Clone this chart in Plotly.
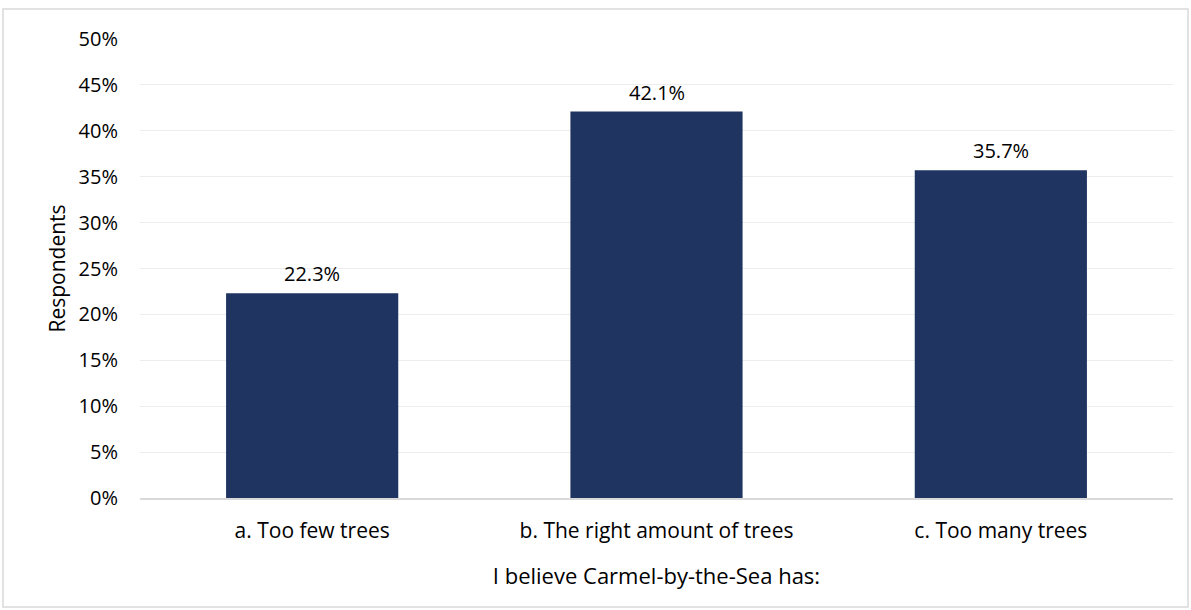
import plotly.graph_objects as go

categories = ["a. Too few trees", "b. The right amount of trees", "c. Too many trees"]
values = [22.3, 42.1, 35.7]
tick_vals = [0, 5, 10, 15, 20, 25, 30, 35, 40, 45, 50]
tick_text = [f"{v}%" for v in tick_vals]

W, H = 1191, 610
ml, mr, mt, mb = 140, 18, 39, 112
pw, ph = W - ml - mr, H - mt - mb

fig = go.Figure()
fig.add_trace(go.Bar(
    x=categories, y=values, width=0.5,
    marker=dict(color="#1F3461", line=dict(width=0)),
    hoverinfo="skip",
))
for c, v in zip(categories, values):
    fig.add_annotation(x=c, y=v, text=f"{v:.1f}%", showarrow=False,
                       yanchor="bottom", yshift=4,
                       font=dict(size=20, color="#000000"))

# outer chart border
bx0, by0, bx1, by1 = 3, 9, 1188, 607
fig.add_shape(type="rect", xref="paper", yref="paper",
              x0=(bx0 - ml) / pw, x1=(bx1 - ml) / pw,
              y0=(H - by1 - mb) / ph, y1=(H - by0 - mb) / ph,
              line=dict(color="#D9D9D9", width=1.5), fillcolor="rgba(0,0,0,0)",
              layer="below")

fig.update_layout(
    width=W, height=H,
    margin=dict(l=ml, r=mr, t=mt, b=mb),
    paper_bgcolor="white", plot_bgcolor="white",
    font=dict(family="Open Sans, sans-serif", size=20, color="#000000"),
    showlegend=False, bargap=0.5,
    xaxis=dict(
        showgrid=False, showline=True, linecolor="#D9D9D9", linewidth=1.5,
        ticks="", ticklabelstandoff=13, tickfont=dict(size=21),
        title=dict(text="I believe Carmel-by-the-Sea has:", standoff=26,
                   font=dict(size=22)),
    ),
    yaxis=dict(
        range=[0, 50], tickvals=tick_vals, ticktext=tick_text,
        showgrid=True, gridcolor="#EDEDED", gridwidth=1, zeroline=False,
        showline=False, ticks="", ticklabelstandoff=21,
        title=dict(text="Respondents", standoff=7, font=dict(size=21)),
    ),
)

fig.write_html("out.html", config={"displayModeBar": False},
               post_script="document.body.style.margin='0';document.body.style.padding='0';")
